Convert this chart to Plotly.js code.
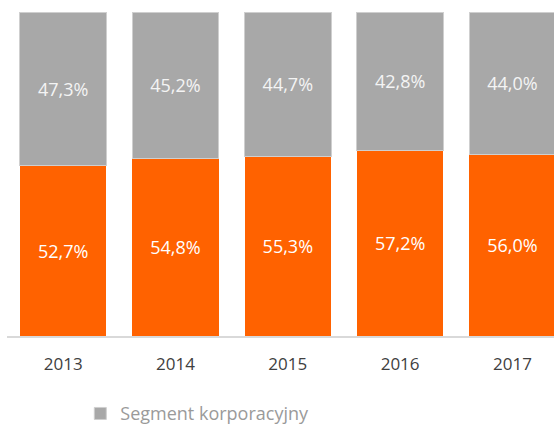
<!DOCTYPE html>
<html>
<head>
<meta charset="utf-8">
<script src="https://cdn.plot.ly/plotly-3.0.1.min.js"></script>
<style>
html, body { margin: 0; padding: 0; background: #ffffff; }
#chart { width: 554px; height: 428px; }
</style>
</head>
<body>
<div id="chart"></div>
<script>
const years = ['2013', '2014', '2015', '2016', '2017'];
const retailShare = [52.7, 54.8, 55.3, 57.2, 56.0];
const corporateShare = [47.3, 45.2, 44.7, 42.8, 44.0];
const retailName = 'Segment detaliczny';
const corporateName = 'Segment korporacyjny';

const fmt = v => v.toFixed(1).replace('.', ',') + '%';
const FONT = 'Open Sans, DejaVu Sans, sans-serif';

const traces = [
  {
    type: 'bar',
    name: retailName,
    x: years,
    y: retailShare,
    text: retailShare.map(fmt),
    textposition: 'inside',
    insidetextanchor: 'middle',
    textfont: { family: FONT, size: 18, color: '#ffffff' },
    marker: { color: '#ff6200', line: { width: 0 } },
    showlegend: false,
    hoverinfo: 'x+text'
  },
  {
    type: 'bar',
    name: corporateName,
    x: years,
    y: corporateShare,
    text: corporateShare.map(fmt),
    textposition: 'inside',
    insidetextanchor: 'middle',
    textfont: { family: FONT, size: 18, color: '#f4f4f4' },
    marker: { color: '#a8a8a8', line: { width: 1, color: '#cfcfcf' } },
    showlegend: true,
    hoverinfo: 'x+text'
  }
];

const layout = {
  width: 554,
  height: 428,
  margin: { l: 7, r: 0, t: 12, b: 92, autoexpand: false },
  paper_bgcolor: '#ffffff',
  plot_bgcolor: '#ffffff',
  barmode: 'stack',
  bargap: 0.23,
  font: { family: FONT, color: '#404040' },
  xaxis: {
    type: 'category',
    range: [-0.5, 4.37],
    showgrid: false,
    zeroline: false,
    showline: true,
    linecolor: '#d9d9d9',
    linewidth: 2,
    ticks: 'outside',
    ticklen: 12,
    tickcolor: 'rgba(0,0,0,0)',
    tickfont: { family: FONT, size: 17, color: '#404040' },
    automargin: false,
    fixedrange: true
  },
  yaxis: {
    range: [0, 100],
    showgrid: false,
    zeroline: false,
    showline: false,
    showticklabels: false,
    ticks: '',
    automargin: false,
    fixedrange: true
  },
  showlegend: true,
  legend: {
    orientation: 'h',
    x: 0.134,
    xanchor: 'left',
    y: -0.24,
    yanchor: 'middle',
    font: { family: FONT, size: 18, color: '#9a9a9a' },
    bgcolor: 'rgba(0,0,0,0)'
  }
};

Plotly.newPlot('chart', traces, layout, { displayModeBar: false, staticPlot: true });
</script>
</body>
</html>
